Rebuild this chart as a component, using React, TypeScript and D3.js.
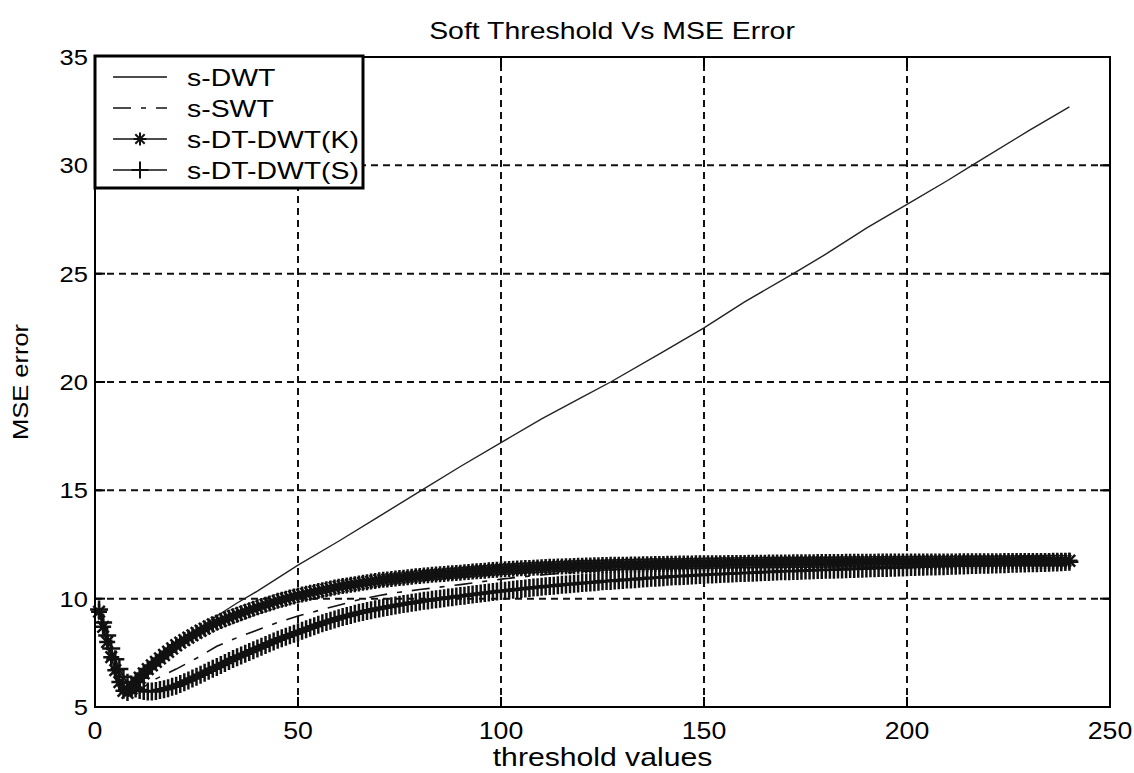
import React from "react";
import * as d3 from "d3";

// Threshold axis (x) samples used by the marker series
const thresholds: number[] = d3.range(1, 241);

// s-DWT (solid line), read at selected thresholds
const dwtX: number[] = [1, 2, 3, 4, 5, 6, 7, 8, 10, 12, 15, 20, 25, 30, 35, 40, 45, 50, 60, 70, 80, 90, 100, 110, 120, 127, 140, 150, 160, 172, 180, 190, 200, 210, 216, 230, 240];
const dwtY: number[] = [9.4, 8.6, 7.8, 7.0, 6.3, 5.8, 5.6, 5.7, 6.2, 6.6, 7.1, 7.95, 8.55, 9.2, 9.8, 10.35, 10.95, 11.55, 12.65, 13.8, 14.95, 16.1, 17.2, 18.3, 19.3, 20.0, 21.4, 22.5, 23.7, 25.0, 25.9, 27.1, 28.2, 29.3, 30.0, 31.6, 32.7];

// s-SWT (dash-dot line)
const swtX: number[] = [1, 3, 5, 7, 9, 11, 13, 15, 20, 25, 30, 35, 40, 45, 50, 55, 60, 65, 70, 75, 80, 90, 100, 110, 120, 130, 150, 175, 200, 240];
const swtY: number[] = [9.4, 8.2, 7.0, 6.1, 5.75, 5.8, 6.05, 6.3, 6.75, 7.25, 7.8, 8.2, 8.55, 8.9, 9.2, 9.45, 9.7, 9.95, 10.15, 10.3, 10.42, 10.65, 10.9, 11.1, 11.25, 11.35, 11.5, 11.6, 11.67, 11.72];

// s-DT-DWT(K), star markers, one value per threshold 1..240
const dtdwtK: number[] = [
  9.40, 8.70, 8.00, 7.30, 6.70, 6.15, 5.75, 5.65, 5.85, 6.15,
  6.35, 6.55, 6.75, 6.92, 7.08, 7.24, 7.40, 7.55, 7.70, 7.85,
  7.97, 8.09, 8.20, 8.31, 8.42, 8.52, 8.62, 8.72, 8.81, 8.90,
  8.97, 9.05, 9.12, 9.19, 9.26, 9.33, 9.40, 9.47, 9.53, 9.60,
  9.66, 9.72, 9.78, 9.84, 9.90, 9.95, 10.00, 10.05, 10.10, 10.15,
  10.19, 10.23, 10.27, 10.31, 10.35, 10.39, 10.43, 10.47, 10.51, 10.55,
  10.58, 10.61, 10.64, 10.67, 10.70, 10.73, 10.76, 10.79, 10.82, 10.85,
  10.87, 10.89, 10.91, 10.93, 10.95, 10.97, 10.99, 11.01, 11.03, 11.05,
  11.07, 11.08, 11.10, 11.11, 11.13, 11.14, 11.16, 11.17, 11.19, 11.20,
  11.22, 11.23, 11.25, 11.26, 11.28, 11.29, 11.31, 11.32, 11.34, 11.35,
  11.36, 11.37, 11.38, 11.39, 11.40, 11.41, 11.42, 11.43, 11.44, 11.45,
  11.46, 11.47, 11.47, 11.48, 11.49, 11.50, 11.50, 11.51, 11.52, 11.52,
  11.53, 11.53, 11.54, 11.54, 11.55, 11.55, 11.56, 11.56, 11.57, 11.57,
  11.57, 11.58, 11.58, 11.58, 11.59, 11.59, 11.59, 11.60, 11.60, 11.60,
  11.61, 11.61, 11.61, 11.62, 11.62, 11.62, 11.62, 11.63, 11.63, 11.63,
  11.63, 11.64, 11.64, 11.64, 11.64, 11.65, 11.65, 11.65, 11.65, 11.65,
  11.66, 11.66, 11.66, 11.66, 11.66, 11.67, 11.67, 11.67, 11.67, 11.67,
  11.67, 11.68, 11.68, 11.68, 11.68, 11.68, 11.68, 11.69, 11.69, 11.69,
  11.69, 11.69, 11.69, 11.69, 11.70, 11.70, 11.70, 11.70, 11.70, 11.70,
  11.70, 11.70, 11.71, 11.71, 11.71, 11.71, 11.71, 11.71, 11.71, 11.71,
  11.71, 11.72, 11.72, 11.72, 11.72, 11.72, 11.72, 11.72, 11.72, 11.72,
  11.72, 11.72, 11.73, 11.73, 11.73, 11.73, 11.73, 11.73, 11.73, 11.73,
  11.73, 11.73, 11.73, 11.74, 11.74, 11.74, 11.74, 11.74, 11.74, 11.74,
  11.74, 11.74, 11.74, 11.74, 11.74, 11.75, 11.75, 11.75, 11.75, 11.75,
];

// s-DT-DWT(S), plus markers, one value per threshold 1..240
const dtdwtS: number[] = [
  9.50, 8.90, 8.30, 7.70, 7.20, 6.75, 6.40, 6.12, 5.95, 5.85,
  5.78, 5.74, 5.72, 5.72, 5.74, 5.78, 5.82, 5.87, 5.93, 5.98,
  6.06, 6.14, 6.22, 6.31, 6.40, 6.49, 6.58, 6.67, 6.76, 6.85,
  6.94, 7.03, 7.12, 7.21, 7.30, 7.38, 7.46, 7.54, 7.62, 7.70,
  7.78, 7.86, 7.94, 8.02, 8.10, 8.17, 8.24, 8.31, 8.38, 8.45,
  8.52, 8.59, 8.66, 8.73, 8.80, 8.86, 8.92, 8.98, 9.04, 9.10,
  9.15, 9.20, 9.25, 9.30, 9.35, 9.39, 9.43, 9.47, 9.51, 9.55,
  9.58, 9.62, 9.65, 9.69, 9.72, 9.75, 9.78, 9.81, 9.84, 9.87,
  9.90, 9.92, 9.95, 9.97, 10.00, 10.02, 10.05, 10.07, 10.10, 10.12,
  10.14, 10.17, 10.19, 10.21, 10.24, 10.26, 10.28, 10.31, 10.33, 10.35,
  10.37, 10.39, 10.41, 10.43, 10.45, 10.47, 10.49, 10.51, 10.53, 10.55,
  10.57, 10.58, 10.60, 10.62, 10.64, 10.65, 10.67, 10.69, 10.70, 10.72,
  10.73, 10.75, 10.76, 10.78, 10.80, 10.81, 10.82, 10.84, 10.85, 10.86,
  10.88, 10.89, 10.90, 10.92, 10.93, 10.94, 10.96, 10.97, 10.98, 10.99,
  11.01, 11.02, 11.03, 11.04, 11.05, 11.06, 11.07, 11.08, 11.09, 11.10,
  11.11, 11.12, 11.13, 11.14, 11.15, 11.15, 11.16, 11.17, 11.18, 11.19,
  11.20, 11.20, 11.21, 11.22, 11.23, 11.23, 11.24, 11.25, 11.26, 11.26,
  11.27, 11.28, 11.28, 11.29, 11.30, 11.30, 11.31, 11.32, 11.32, 11.33,
  11.34, 11.34, 11.35, 11.35, 11.36, 11.37, 11.37, 11.38, 11.38, 11.39,
  11.40, 11.40, 11.41, 11.41, 11.42, 11.43, 11.43, 11.44, 11.44, 11.45,
  11.46, 11.46, 11.47, 11.47, 11.48, 11.49, 11.49, 11.50, 11.50, 11.51,
  11.52, 11.52, 11.53, 11.53, 11.54, 11.55, 11.55, 11.56, 11.56, 11.57,
  11.58, 11.58, 11.59, 11.59, 11.60, 11.61, 11.61, 11.62, 11.62, 11.63,
  11.64, 11.64, 11.65, 11.65, 11.66, 11.67, 11.67, 11.68, 11.69, 11.70,
];

const xTicks: number[] = [0, 50, 100, 150, 200, 250];
const yTicks: number[] = [5, 10, 15, 20, 25, 30, 35];
const legendLabels: string[] = ["s-DWT", "s-SWT", "s-DT-DWT(K)", "s-DT-DWT(S)"];

const titleText = "Soft Threshold Vs MSE Error";
const xLabelText = "threshold values";
const yLabelText = "MSE error";

const W = 1134;
const H = 773;
const plot = { left: 95, right: 1110, top: 57, bottom: 707 };
const FONT = "'Liberation Sans', Arial, Helvetica, sans-serif";
const SX = 1.16; // horizontal stretch of the lettering
const SWT_DASH = "18,10,5,10";

type TextProps = {
  x: number;
  y: number;
  size: number;
  anchor?: "start" | "middle" | "end";
  rotate?: number;
  children: React.ReactNode;
};

function Label({ x, y, size, anchor = "middle", rotate = 0, children }: TextProps) {
  return (
    <text
      transform={`translate(${x},${y}) rotate(${rotate}) scale(${SX},1)`}
      textAnchor={anchor}
      fontFamily={FONT}
      fontSize={size}
      fill="#000"
    >
      {children}
    </text>
  );
}

function plusPath(cx: number, cy: number, r: number): string {
  return `M${cx - r},${cy}h${2 * r}M${cx},${cy - r}v${2 * r}`;
}

function starPath(cx: number, cy: number, r: number): string {
  const d = r * 0.72;
  return (
    `M${cx - r},${cy}h${2 * r}M${cx},${cy - r}v${2 * r}` +
    `M${cx - d},${cy - d}l${2 * d},${2 * d}M${cx - d},${cy + d}l${2 * d},${-2 * d}`
  );
}

export default function App() {
  const x = d3.scaleLinear().domain([0, 250]).range([plot.left, plot.right]);
  const y = d3.scaleLinear().domain([5, 35]).range([plot.bottom, plot.top]);

  const line = d3
    .line<[number, number]>()
    .x((d) => x(d[0]))
    .y((d) => y(d[1]));

  const dwtPts = dwtX.map((v, i) => [v, dwtY[i]] as [number, number]);
  const swtPts = swtX.map((v, i) => [v, swtY[i]] as [number, number]);
  const kPts = thresholds.map((t, i) => [t, dtdwtK[i]] as [number, number]);
  const sPts = thresholds.map((t, i) => [t, dtdwtS[i]] as [number, number]);

  const kMarkers = kPts.map(([a, b]) => starPath(x(a), y(b), 8)).join("");
  const sMarkers = sPts.map(([a, b]) => plusPath(x(a), y(b), 9)).join("");

  const tickLen = 10;
  const legend = { x: plot.left, y: 56, w: 268, h: 132 };
  const rowY = [77, 108, 139, 170];
  const sampleX0 = 113;
  const sampleX1 = 167;

  return (
    <div style={{ position: "absolute", left: 0, top: 0 }}>
      <svg width={W} height={H} viewBox={`0 0 ${W} ${H}`} style={{ display: "block", background: "#fff" }}>
        <rect x={0} y={0} width={W} height={H} fill="#fff" />

        {/* grid */}
        <g stroke="#111" strokeWidth={2} strokeDasharray="7,5">
          {xTicks.slice(1, -1).map((t) => (
            <line key={`gx${t}`} x1={x(t)} x2={x(t)} y1={plot.bottom} y2={plot.top} />
          ))}
          {yTicks.slice(1, -1).map((t) => (
            <line key={`gy${t}`} x1={plot.left} x2={plot.right} y1={y(t)} y2={y(t)} />
          ))}
        </g>

        {/* series */}
        <path d={line(dwtPts) ?? ""} fill="none" stroke="#222" strokeWidth={1.4} />
        <path d={line(swtPts) ?? ""} fill="none" stroke="#111" strokeWidth={1.6} strokeDasharray={SWT_DASH} />
        <path d={line(kPts) ?? ""} fill="none" stroke="#111" strokeWidth={1.8} />
        <path d={kMarkers} fill="none" stroke="#111" strokeWidth={2.5} />
        <path d={line(sPts) ?? ""} fill="none" stroke="#111" strokeWidth={1.8} />
        <path d={sMarkers} fill="none" stroke="#111" strokeWidth={2.5} />

        {/* axes box and ticks */}
        <rect
          x={plot.left}
          y={plot.top}
          width={plot.right - plot.left}
          height={plot.bottom - plot.top}
          fill="none"
          stroke="#000"
          strokeWidth={2}
        />
        <g stroke="#000" strokeWidth={2}>
          {xTicks.map((t) => (
            <g key={`tx${t}`}>
              <line x1={x(t)} x2={x(t)} y1={plot.bottom} y2={plot.bottom - tickLen} />
              <line x1={x(t)} x2={x(t)} y1={plot.top} y2={plot.top + tickLen} />
            </g>
          ))}
          {yTicks.map((t) => (
            <g key={`ty${t}`}>
              <line x1={plot.left} x2={plot.left + tickLen} y1={y(t)} y2={y(t)} />
              <line x1={plot.right} x2={plot.right - tickLen} y1={y(t)} y2={y(t)} />
            </g>
          ))}
        </g>

        {/* tick labels */}
        {xTicks.map((t) => (
          <Label key={`lx${t}`} x={x(t)} y={739} size={23}>
            {t}
          </Label>
        ))}
        {yTicks.map((t) => (
          <Label key={`ly${t}`} x={88} y={y(t) + 8} size={22} anchor="end">
            {t}
          </Label>
        ))}

        {/* titles */}
        <Label x={612} y={39} size={24.5}>
          {titleText}
        </Label>
        <Label x={(plot.left + plot.right) / 2} y={766} size={26}>
          {xLabelText}
        </Label>
        <Label x={28} y={(plot.top + plot.bottom) / 2} size={22} rotate={-90}>
          {yLabelText}
        </Label>

        {/* legend */}
        <rect x={legend.x} y={legend.y} width={legend.w} height={legend.h} fill="#fff" stroke="#000" strokeWidth={3} />
        <g stroke="#111" strokeWidth={1.5} fill="none">
          <line x1={sampleX0} x2={sampleX1} y1={rowY[0]} y2={rowY[0]} />
          <line x1={sampleX0} x2={sampleX1} y1={rowY[1]} y2={rowY[1]} strokeDasharray={SWT_DASH} />
          <line x1={sampleX0} x2={sampleX1} y1={rowY[2]} y2={rowY[2]} />
          <path d={starPath((sampleX0 + sampleX1) / 2, rowY[2], 6.5)} strokeWidth={2} />
          <line x1={sampleX0} x2={sampleX1} y1={rowY[3]} y2={rowY[3]} />
          <path d={plusPath((sampleX0 + sampleX1) / 2, rowY[3], 8.5)} strokeWidth={2} />
        </g>
        {legendLabels.map((s, i) => (
          <Label key={s} x={187} y={rowY[i] + 9} size={24.5} anchor="start">
            {s}
          </Label>
        ))}
      </svg>
    </div>
  );
}
